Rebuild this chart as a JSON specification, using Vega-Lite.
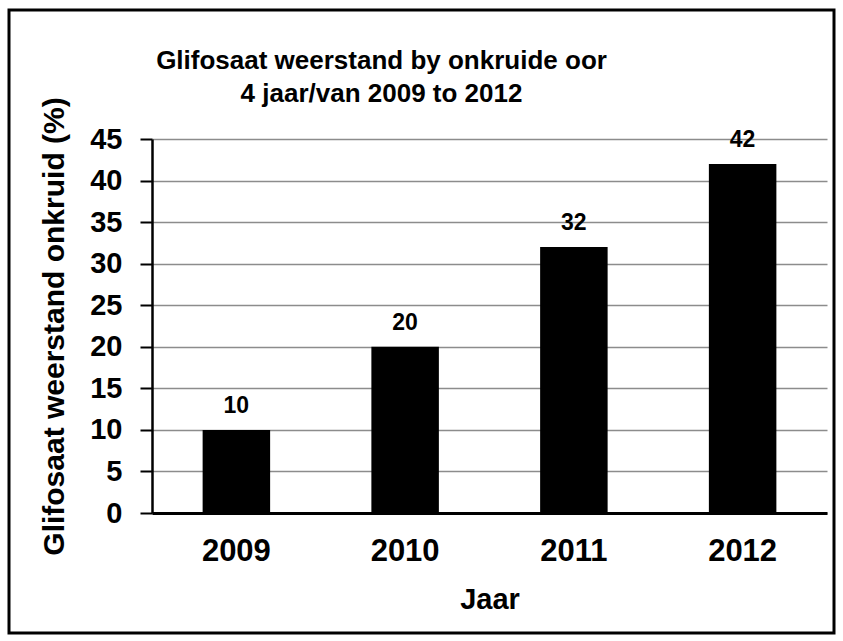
{
  "$schema": "https://vega.github.io/schema/vega-lite/v6.json",
  "width": 825,
  "height": 623,
  "autosize": {"type": "none"},
  "padding": {"left": 9, "top": 10, "right": 8, "bottom": 8},
  "background": "white",
  "title": {
    "text": ["Glifosaat weerstand by onkruide oor", "4 jaar/van 2009 to 2012"],
    "fontSize": 26,
    "font": "Liberation Sans",
    "fontWeight": "bold",
    "color": "black",
    "anchor": "middle",
    "dx": -40,
    "offset": -97,
    "lineHeight": 33
  },
  "data": {
    "values": [
      {"Jaar": "2009", "Waarde": 10},
      {"Jaar": "2010", "Waarde": 20},
      {"Jaar": "2011", "Waarde": 32},
      {"Jaar": "2012", "Waarde": 42}
    ]
  },
  "encoding": {
    "x": {
      "field": "Jaar",
      "type": "ordinal",
      "scale": {"range": [143, 818], "paddingInner": 0.6, "paddingOuter": 0.3},
      "axis": {
        "title": "Jaar",
        "offset": -120,
        "labelAngle": 0,
        "ticks": false,
        "tickSize": 0,
        "domainColor": "black",
        "domainWidth": 3,
        "labelPadding": 23,
        "labelFontSize": 31,
        "labelFont": "Liberation Sans",
        "labelFontWeight": "bold",
        "labelColor": "black",
        "titleFont": "Liberation Sans",
        "titleFontSize": 29,
        "titleFontWeight": "bold",
        "titleColor": "black",
        "titlePadding": 19
      }
    },
    "y": {
      "field": "Waarde",
      "type": "quantitative",
      "scale": {"domain": [0, 45], "range": [503, 129], "nice": false},
      "axis": {
        "title": "Glifosaat weerstand onkruid (%)",
        "offset": -143,
        "values": [0, 5, 10, 15, 20, 25, 30, 35, 40, 45],
        "grid": true,
        "gridColor": "#8c8c8c",
        "gridWidth": 1.5,
        "domainColor": "black",
        "domainWidth": 2.5,
        "tickColor": "black",
        "tickWidth": 2,
        "tickSize": 12,
        "labelPadding": 18,
        "labelFontSize": 29,
        "labelFont": "Liberation Sans",
        "labelFontWeight": "bold",
        "labelColor": "black",
        "titleFont": "Liberation Sans",
        "titleFontSize": 30,
        "titleFontWeight": "bold",
        "titleColor": "black",
        "titlePadding": 20
      }
    }
  },
  "layer": [
    {"mark": {"type": "bar", "color": "black"}},
    {
      "mark": {
        "type": "text",
        "baseline": "bottom",
        "dy": -12,
        "fontSize": 23,
        "font": "Liberation Sans",
        "fontWeight": "bold",
        "color": "black"
      },
      "encoding": {"text": {"field": "Waarde", "type": "quantitative"}}
    }
  ],
  "config": {"view": {"stroke": "black", "strokeWidth": 3}}
}
